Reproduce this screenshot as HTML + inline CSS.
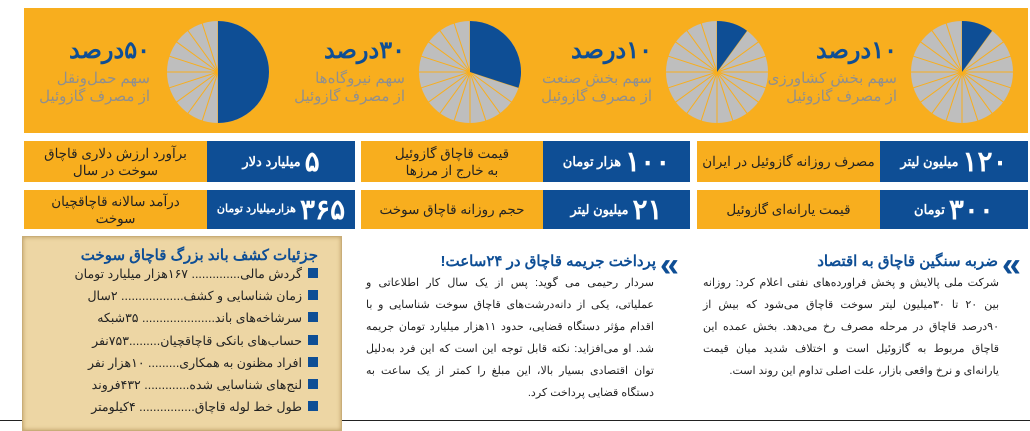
<!DOCTYPE html>
<html><head><meta charset="utf-8"><style>
body{margin:0;width:1030px;height:429px;background:#fff;position:relative;overflow:hidden;font-family:"Liberation Sans","Noto Sans CJK SC",sans-serif}
.a{position:absolute}
.or{background:#F8AE1E}
.bl{background:#0E4E95;color:#fff}
.t{direction:rtl;white-space:nowrap}
.big{font-weight:bold;color:#0E4E95;font-size:24px}
.cap{color:#8f8f8f;font-size:15px;line-height:18px;text-align:right}
.box{display:flex;align-items:center;justify-content:center;direction:rtl;text-align:center;font-size:13.5px;line-height:17px;color:#222}
.num{font-weight:bold;font-size:13px}
.num b{font-size:28px;margin-left:4px}
.p{direction:rtl;text-align:justify;text-align-last:right;font-size:11px;line-height:22px;color:#222;letter-spacing:-0.2px}
.h{direction:rtl;font-weight:bold;color:#0E4E95;font-size:15px}
.chev{color:#0E4E95;font-size:34px;font-weight:bold;line-height:30px}
.it{direction:rtl;font-size:12.5px;color:#222;white-space:nowrap}
.it span{display:inline-block;width:10px;height:10px;background:#0E4E95;margin-left:6px}
</style></head><body>
<div class="a or" style="left:24px;top:8px;width:1004px;height:125px"></div>
<svg class="a" style="left:0;top:0" width="1030" height="140">
<defs><g id="sp" stroke="#F8AE1E" stroke-width="1">
<line x1="0" y1="0" x2="0" y2="-52"/><line x1="0" y1="0" x2="0" y2="-52" transform="rotate(18)"/><line x1="0" y1="0" x2="0" y2="-52" transform="rotate(36)"/><line x1="0" y1="0" x2="0" y2="-52" transform="rotate(54)"/><line x1="0" y1="0" x2="0" y2="-52" transform="rotate(72)"/><line x1="0" y1="0" x2="0" y2="-52" transform="rotate(90)"/><line x1="0" y1="0" x2="0" y2="-52" transform="rotate(108)"/><line x1="0" y1="0" x2="0" y2="-52" transform="rotate(126)"/><line x1="0" y1="0" x2="0" y2="-52" transform="rotate(144)"/><line x1="0" y1="0" x2="0" y2="-52" transform="rotate(162)"/><line x1="0" y1="0" x2="0" y2="-52" transform="rotate(180)"/><line x1="0" y1="0" x2="0" y2="-52" transform="rotate(198)"/><line x1="0" y1="0" x2="0" y2="-52" transform="rotate(216)"/><line x1="0" y1="0" x2="0" y2="-52" transform="rotate(234)"/><line x1="0" y1="0" x2="0" y2="-52" transform="rotate(252)"/><line x1="0" y1="0" x2="0" y2="-52" transform="rotate(270)"/><line x1="0" y1="0" x2="0" y2="-52" transform="rotate(288)"/><line x1="0" y1="0" x2="0" y2="-52" transform="rotate(306)"/><line x1="0" y1="0" x2="0" y2="-52" transform="rotate(324)"/><line x1="0" y1="0" x2="0" y2="-52" transform="rotate(342)"/>
</g></defs>
<g transform="translate(218,72)"><circle r="51" fill="#BEBEBE"/><use href="#sp"/><path d="M0 0 L0 -51 A51 51 0 0 1 0 51 Z" fill="#0E4E95"/></g>
<g transform="translate(470,72)"><circle r="51" fill="#BEBEBE"/><use href="#sp"/><path d="M0 0 L0 -51 A51 51 0 0 1 48.5 15.8 Z" fill="#0E4E95"/></g>
<g transform="translate(717,72)"><circle r="51" fill="#BEBEBE"/><use href="#sp"/><path d="M0 0 L0 -51 A51 51 0 0 1 30 -41.3 Z" fill="#0E4E95"/></g>
<g transform="translate(962,72)"><circle r="51" fill="#BEBEBE"/><use href="#sp"/><path d="M0 0 L0 -51 A51 51 0 0 1 30 -41.3 Z" fill="#0E4E95"/></g>
</svg>
<div class="a t big" style="right:880px;top:36px">۵۰درصد</div>
<div class="a t cap" style="right:880px;top:70px">سهم حمل‌ونقل<br>از مصرف گازوئیل</div>
<div class="a t big" style="right:625px;top:36px">۳۰درصد</div>
<div class="a t cap" style="right:625px;top:70px">سهم نیروگاه‌ها<br>از مصرف گازوئیل</div>
<div class="a t big" style="right:378px;top:36px">۱۰درصد</div>
<div class="a t cap" style="right:378px;top:70px">سهم بخش صنعت<br>از مصرف گازوئیل</div>
<div class="a t big" style="right:133px;top:36px">۱۰درصد</div>
<div class="a t cap" style="right:133px;top:70px">سهم بخش کشاورزی<br>از مصرف گازوئیل</div>

<div class="a or box" style="left:24px;top:141px;width:183px;height:41px">برآورد ارزش دلاری قاچاق<br>سوخت در سال</div>
<div class="a bl box num" style="left:207px;top:141px;width:148px;height:41px;color:#fff"><b>۵</b>میلیارد دلار</div>
<div class="a or box" style="left:361px;top:141px;width:182px;height:41px">قیمت قاچاق گازوئیل<br>به خارج از مرزها</div>
<div class="a bl box num" style="left:543px;top:141px;width:147px;height:41px;color:#fff"><b>۱۰۰</b>هزار تومان</div>
<div class="a or box" style="left:697px;top:141px;width:183px;height:41px">مصرف روزانه گازوئیل در ایران</div>
<div class="a bl box num" style="left:880px;top:141px;width:148px;height:41px;color:#fff"><b>۱۲۰</b>میلیون لیتر</div>

<div class="a or box" style="left:24px;top:190px;width:183px;height:39px">درآمد سالانه قاچاقچیان<br>سوخت</div>
<div class="a bl box num" style="left:207px;top:190px;width:148px;height:39px;color:#fff;font-size:11px"><b>۳۶۵</b>هزارمیلیارد تومان</div>
<div class="a or box" style="left:361px;top:190px;width:182px;height:39px">حجم روزانه قاچاق سوخت</div>
<div class="a bl box num" style="left:543px;top:190px;width:147px;height:39px;color:#fff"><b>۲۱</b>میلیون لیتر</div>
<div class="a or box" style="left:697px;top:190px;width:183px;height:39px">قیمت یارانه‌ای گازوئیل</div>
<div class="a bl box num" style="left:880px;top:190px;width:148px;height:39px;color:#fff"><b>۳۰۰</b>تومان</div>

<div class="a" style="left:0;top:420px;width:1030px;height:1px;background:#222"></div>
<div class="a" style="left:22px;top:236px;width:318px;height:193px;background:#EDD6A4;box-shadow:0 0 4px #b89a60 inset;border:1px solid #c9ad78"></div>
<div class="a t h" style="right:712px;top:246px">جزئیات کشف باند بزرگ قاچاق سوخت</div>
<div class="a it" style="right:712px;top:266px"><span></span>گردش مالی.............. ۱۶۷هزار میلیارد تومان</div>
<div class="a it" style="right:712px;top:288px"><span></span>زمان شناسایی و کشف.................. ۲سال</div>
<div class="a it" style="right:712px;top:310px"><span></span>سرشاخه‌های باند..................... ۳۵شبکه</div>
<div class="a it" style="right:712px;top:333px"><span></span>حساب‌های بانکی قاچاقچیان.........۷۵۳نفر</div>
<div class="a it" style="right:712px;top:355px"><span></span>افراد مظنون به همکاری......... ۱۰هزار نفر</div>
<div class="a it" style="right:712px;top:377px"><span></span>لنج‌های شناسایی شده............. ۴۳۲فروند</div>
<div class="a it" style="right:712px;top:399px"><span></span>طول خط لوله قاچاق................ ۴کیلومتر</div>

<div class="a chev" style="left:660px;top:250px">«</div>
<div class="a t h" style="right:374px;top:252px">پرداخت جریمه قاچاق در ۲۴ساعت!</div>
<div class="a p" style="left:366px;top:272px;width:288px">سردار رحیمی می گوید: پس از یک سال کار اطلاعاتی و عملیاتی، یکی از دانه‌درشت‌های قاچاق سوخت شناسایی و با اقدام مؤثر دستگاه قضایی، حدود ۱۱هزار میلیارد تومان جریمه شد. او می‌افزاید: نکته قابل توجه این است که این فرد به‌دلیل توان اقتصادی بسیار بالا، این مبلغ را کمتر از یک ساعت به دستگاه قضایی پرداخت کرد.</div>

<div class="a chev" style="left:1002px;top:250px">«</div>
<div class="a t h" style="right:32px;top:252px">ضربه سنگین قاچاق به اقتصاد</div>
<div class="a p" style="left:703px;top:272px;width:296px">شرکت ملی پالایش و پخش فراورده‌های نفتی اعلام کرد: روزانه بین ۲۰ تا ۳۰میلیون لیتر سوخت قاچاق می‌شود که بیش از ۹۰درصد قاچاق در مرحله مصرف رخ می‌دهد. بخش عمده این قاچاق مربوط به گازوئیل است و اختلاف شدید میان قیمت یارانه‌ای و نرخ واقعی بازار، علت اصلی تداوم این روند است.</div>
</body></html>
